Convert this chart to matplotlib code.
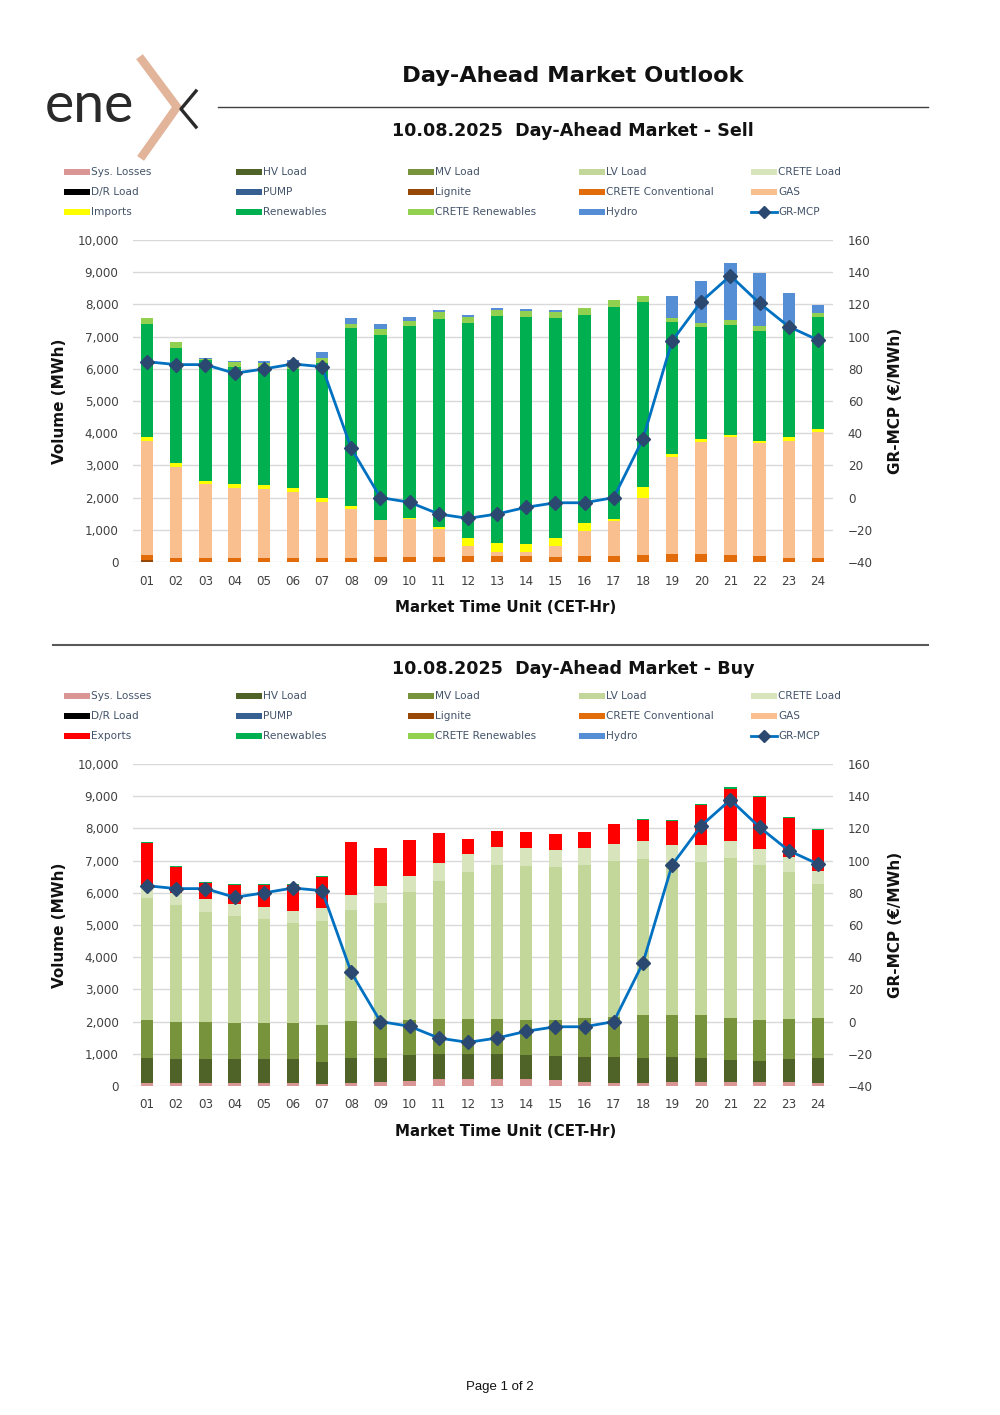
import numpy as np
import matplotlib
matplotlib.use("Agg")
import matplotlib.pyplot as plt
from matplotlib.patches import Rectangle
from matplotlib.lines import Line2D

plt.rcParams['font.family'] = ['DejaVu Sans']

# hours
hours = ['01', '02', '03', '04', '05', '06', '07', '08', '09', '10', '11', '12',
         '13', '14', '15', '16', '17', '18', '19', '20', '21', '22', '23', '24']

# GR-MCP (EUR/MWh)
gr_mcp = [84.4, 82.6, 82.6, 77.2, 79.9, 83.0, 81.3, 30.6, 0.0, -2.9, -10.2, -12.9,
          -10.2, -6.0, -3.2, -3.2, 0.0, 36.4, 97.3, 121.7, 137.8, 120.7, 106.2, 97.9]

# Sell side (MWh)
sell_lignite = [70, 0, 0, 0, 0, 0, 0, 0, 0, 0, 0, 0,
                0, 0, 0, 0, 0, 0, 0, 0, 0, 0, 0, 0]
sell_crete_conv = [147, 114, 114, 114, 114, 114, 114, 135, 166, 166, 166, 186,
                   186, 176, 166, 176, 197, 228, 248, 248, 228, 186, 135, 114]
sell_gas = [3551, 2847, 2298, 2195, 2153, 2070, 1739, 1511, 1139, 1170, 848, 311,
            135, 134, 341, 787, 1087, 1770, 3003, 3479, 3644, 3500, 3633, 3924]
sell_imports = [104, 104, 104, 103, 125, 114, 124, 104, 10, 31, 84, 238,
                259, 249, 238, 238, 41, 332, 114, 93, 83, 82, 104, 93]
sell_renewables = [3520, 3592, 3758, 3655, 3655, 3687, 4193, 5508, 5746, 5953, 6460, 6678,
                   7061, 7061, 6834, 6471, 6606, 5756, 4089, 3490, 3406, 3417, 3458, 3468]
sell_crete_ren = [176, 166, 30, 134, 144, 180, 156, 145, 165, 165, 197, 186,
                  186, 176, 186, 207, 196, 176, 125, 124, 156, 135, 62, 124]
sell_hydro = [0, 0, 40, 52, 62, 100, 186, 176, 166, 125, 83, 62,
              62, 72, 62, 0, 0, 0, 683, 1304, 1760, 1667, 953, 259]

# Buy side (MWh)
buy_sys_losses = [83, 83, 83, 83, 83, 83, 62, 83, 114, 155, 207, 217,
                  217, 207, 176, 124, 103, 103, 114, 134, 124, 114, 114, 93]
buy_hv = [776, 756, 745, 745, 756, 745, 694, 776, 766, 808, 777, 788,
          777, 746, 746, 787, 787, 777, 776, 746, 673, 673, 714, 787]
buy_mv = [1191, 1159, 1149, 1139, 1128, 1118, 1128, 1160, 1118, 1087, 1087, 1066,
          1077, 1087, 1128, 1201, 1264, 1325, 1315, 1315, 1315, 1263, 1243, 1222]
buy_lv = [3800, 3624, 3438, 3313, 3220, 3127, 3241, 3458, 3696, 3965, 4307, 4576,
          4783, 4804, 4762, 4752, 4824, 4846, 4763, 4773, 4959, 4814, 4576, 4183]
buy_crete = [342, 383, 383, 373, 373, 363, 404, 455, 508, 518, 538, 548,
             559, 548, 518, 528, 539, 548, 507, 517, 539, 508, 455, 403]
buy_exports = [1345, 787, 518, 580, 673, 807, 963, 1657, 1190, 1097, 931, 487,
               496, 497, 497, 507, 621, 652, 766, 1243, 1625, 1594, 1211, 1263]
buy_renewables = [52, 41, 31, 31, 31, 31, 31, 0, 0, 0, 0, 0,
                  0, 0, 0, 0, 0, 31, 31, 31, 42, 31, 32, 31]

colors = {
    'Sys. Losses': '#DA9694', 'HV Load': '#4F6228', 'MV Load': '#77933C',
    'LV Load': '#C4D79B', 'CRETE Load': '#D8E4BC', 'D/R Load': '#000000',
    'PUMP': '#366092', 'Lignite': '#974706', 'CRETE Conventional': '#E26B0A',
    'GAS': '#FABF8F', 'Imports': '#FFFF00', 'Exports': '#FF0000',
    'Renewables': '#00B050', 'CRETE Renewables': '#92D050', 'Hydro': '#558ED5',
}
LINE_C = '#0070C0'
MARK_C = '#2B4870'
TXT_C = '#404040'
LEG_C = '#44546A'

W, H = 1000, 1415
fig = plt.figure(figsize=(W / 100, H / 100), dpi=100)


def fx(x):
    return x / W


def fy(y):
    return 1 - y / H


# logo
fig.text(fx(45), fy(106), 'ene', fontsize=40, color='#2a2a2a', family='Lato',
         fontweight='normal', va='center', ha='left')
fig.add_artist(Line2D([fx(142), fx(177), fx(143)], [fy(60), fy(107), fy(155)],
                      color='#E2B49A', lw=6, solid_joinstyle='miter'))
fig.add_artist(Line2D([fx(196), fx(181), fx(196)], [fy(91), fy(109), fy(127)],
                      color='#2a2a2a', lw=2.4))

fig.text(fx(573), fy(76), 'Day-Ahead Market Outlook', fontsize=16.2, fontweight='bold',
         ha='center', va='center', color='#111111')
fig.add_artist(Line2D([fx(218), fx(928)], [fy(107), fy(107)], color='#404040', lw=1))
fig.add_artist(Line2D([fx(53), fx(928)], [fy(645), fy(645)], color='#595959', lw=1.5))
fig.text(fx(500), fy(1387), 'Page 1 of 2', fontsize=9.5, family='Liberation Sans',
         ha='center', va='center', color='#111111')


def draw_legend(y0, third_row):
    names = ['Sys. Losses', 'HV Load', 'MV Load', 'LV Load', 'CRETE Load',
             'D/R Load', 'PUMP', 'Lignite', 'CRETE Conventional', 'GAS'] + third_row
    cols = [64, 236, 408, 579, 751]
    for i, name in enumerate(names):
        x = cols[i % 5]
        y = y0 + 20 * (i // 5)
        if name == 'GR-MCP':
            fig.add_artist(Line2D([fx(x), fx(x + 26)], [fy(y), fy(y)], color=LINE_C, lw=2))
            fig.add_artist(Line2D([fx(x + 13)], [fy(y)], marker='D', ms=6,
                                  color=MARK_C, lw=0))
        else:
            fig.add_artist(Rectangle((fx(x), fy(y + 3)), 26 / W, 6 / H,
                                     color=colors[name], lw=0))
        fig.text(fx(x + 27), fy(y), name, fontsize=7.6, color=LEG_C,
                 va='center', ha='left')


def setup_axes(ax, ax2):
    ax.set_xlim(-0.5, 23.5)
    ax.set_ylim(0, 10000)
    ax.set_yticks(np.arange(0, 10001, 1000))
    ax.set_yticklabels([f'{v:,}' for v in range(0, 10001, 1000)])
    ax.set_xticks(np.arange(24))
    ax.set_xticklabels(hours)
    ax.grid(axis='y', color='#D9D9D9', lw=1)
    ax.set_axisbelow(True)
    ax2.set_ylim(-40, 160)
    ax2.set_yticks(np.arange(-40, 161, 20))
    for a in (ax, ax2):
        for s in a.spines.values():
            s.set_visible(False)
        a.tick_params(length=0, labelsize=8.6, labelcolor=TXT_C)
    ax.tick_params(axis='y', pad=10)
    ax.tick_params(axis='x', pad=9)
    ax2.tick_params(axis='y', pad=11)


def stack(ax, series):
    x = np.arange(24)
    bottom = np.zeros(24)
    for name, vals in series:
        vals = np.array(vals, dtype=float)
        ax.bar(x, vals, 0.42, bottom=bottom, color=colors[name], lw=0)
        bottom += vals


def chart(top, bottom_y, title, title_y, legend_y, third_row, series):
    fig.text(fx(573), fy(title_y), title, fontsize=12.6, fontweight='bold',
             ha='center', va='center', color='#111111')
    draw_legend(legend_y, third_row)
    ax = fig.add_axes([fx(132.5), fy(bottom_y), 700 / W, (bottom_y - top) / H])
    ax2 = ax.twinx()
    stack(ax, series)
    ax2.plot(np.arange(24), gr_mcp, color=LINE_C, lw=2, marker='D', ms=7.5,
             mfc=MARK_C, mec=MARK_C)
    setup_axes(ax, ax2)
    mid = (top + bottom_y) / 2
    fig.text(fx(60), fy(mid), 'Volume (MWh)', rotation=90, fontsize=11,
             fontweight='bold', ha='center', va='center', color='#111111')
    fig.text(fx(895), fy(mid), 'GR-MCP (€/MWh)', rotation=90, fontsize=11,
             fontweight='bold', ha='center', va='center', color='#111111')
    fig.text(fx(506), fy(bottom_y + 45), 'Market Time Unit (CET-Hr)', fontsize=10.8,
             fontweight='bold', ha='center', va='center', color='#111111')


chart(240, 562, '10.08.2025  Day-Ahead Market - Sell', 131, 172,
      ['Imports', 'Renewables', 'CRETE Renewables', 'Hydro', 'GR-MCP'],
      [('Lignite', sell_lignite), ('CRETE Conventional', sell_crete_conv),
       ('GAS', sell_gas), ('Imports', sell_imports), ('Renewables', sell_renewables),
       ('CRETE Renewables', sell_crete_ren), ('Hydro', sell_hydro)])

chart(764, 1086, '10.08.2025  Day-Ahead Market - Buy', 669, 696,
      ['Exports', 'Renewables', 'CRETE Renewables', 'Hydro', 'GR-MCP'],
      [('Sys. Losses', buy_sys_losses), ('HV Load', buy_hv), ('MV Load', buy_mv),
       ('LV Load', buy_lv), ('CRETE Load', buy_crete), ('Exports', buy_exports),
       ('Renewables', buy_renewables)])

fig.savefig('out.png', dpi=100)
